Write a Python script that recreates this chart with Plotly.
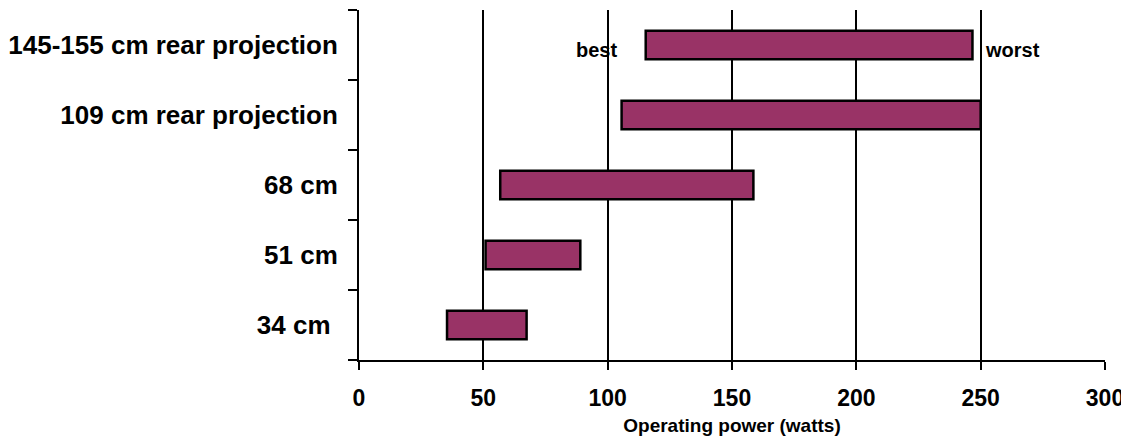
import plotly.graph_objects as go

categories = ["34 cm\u00a0", "51 cm", "68 cm", "109 cm rear projection", "145-155 cm rear projection"]
best = [35.4, 50.9, 56.8, 105.6, 115.3]
worst = [67.4, 89.0, 158.6, 250.0, 246.7]
x_ticks = [0, 50, 100, 150, 200, 250, 300]

FONT = "Liberation Sans, Arial, sans-serif"

fig = go.Figure()
fig.add_trace(go.Bar(
    y=categories,
    x=[w - b for w, b in zip(worst, best)],
    base=best,
    orientation="h",
    width=0.41,
    marker=dict(color="#993366", line=dict(color="black", width=2.5)),
    showlegend=False,
    hoverinfo="skip",
))

fig.add_annotation(x=best[-1], y=categories[-1], text="<b>best</b>", showarrow=False,
                   xanchor="right", xshift=-27, yshift=-5, font=dict(family=FONT, size=20, color="black"))
fig.add_annotation(x=worst[-1], y=categories[-1], text="<b>worst</b>", showarrow=False,
                   xanchor="left", xshift=11, yshift=-5, font=dict(family=FONT, size=20, color="black"))

# page body has an 8px default margin: shrink the figure to fit the window
fig.update_layout(
    width=1121, height=432,
    margin=dict(l=351, r=24, t=2, b=80, autoexpand=False),
    plot_bgcolor="white", paper_bgcolor="white",
    font=dict(family=FONT, color="black"),
)
fig.update_xaxes(
    range=[0, 300], tickvals=x_ticks, ticktext=[f"<b>{v}</b>" for v in x_ticks],
    tickfont=dict(family=FONT, size=23, color="black"),
    showgrid=True, gridcolor="black", gridwidth=2,
    showline=True, linecolor="black", linewidth=2,
    ticks="outside", ticklen=8, tickwidth=2, tickcolor="black",
    zeroline=False, automargin=False, ticklabelstandoff=8,
    title=dict(text="<b>Operating power (watts)</b>", font=dict(family=FONT, size=19, color="black"), standoff=9),
)
fig.update_yaxes(
    type="category", categoryorder="array", categoryarray=categories,
    tickvals=categories, ticktext=[f"<b>{c}</b>" for c in categories],
    tickfont=dict(family=FONT, size=26, color="black"),
    showline=True, linecolor="black", linewidth=2,
    ticks="outside", ticklen=9, tickwidth=2, tickcolor="black", tickson="boundaries",
    showgrid=False, zeroline=False, automargin=False,
    ticklabelstandoff=14,
)

fig.write_html("out.html")
